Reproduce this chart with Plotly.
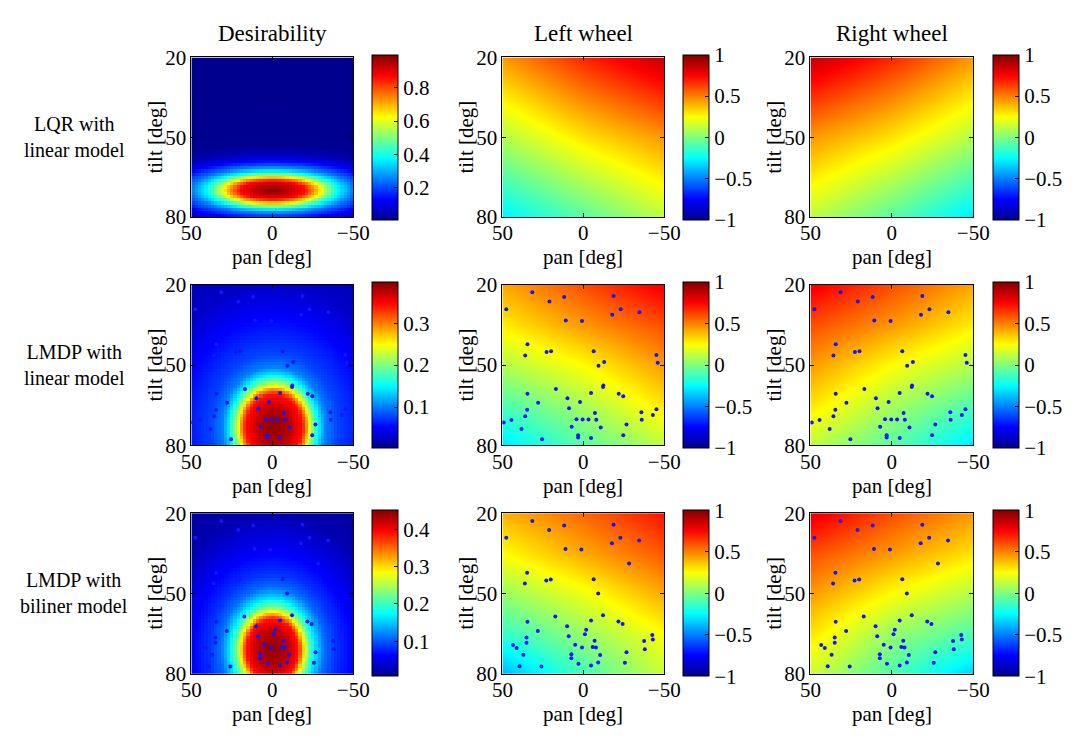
import numpy as np
import plotly.graph_objects as go

W, H = 1078, 738
FONT = "Liberation Serif"

# ---------------- data ----------------
col_titles = ["Desirability", "Left wheel", "Right wheel"]
row_titles = ["LQR with<br>linear model", "LMDP with<br>linear model", "LMDP with<br>biliner model"]

pan_ticks = [50, 0, -50]
tilt_ticks = [20, 50, 80]

# Desirability fields: radial profiles read along the horizontal line through the peak
# (distance in pan-degrees -> value relative to peak), peak centre, tilt stretch factor
d1_peak, d1_center, d1_stretch = 0.99, (0, 69.8), 5.8
d1_r = [0, 12, 20, 25.5, 30.5, 35, 41, 50, 65, 80, 100, 400]
d1_f = [1.0, 0.94, 0.875, 0.75, 0.625, 0.5, 0.375, 0.25, 0.125, 0.05, 0.01, 0.005]
d1_range = [0.008, 0.998]
d1_cticks = [0.2, 0.4, 0.6, 0.8]

d2_peak, d2_center, d2_stretch = 0.39, (-1, 73), 1.43
d2_r = [0, 5, 11, 17.5, 20, 22, 24.5, 27.5, 32, 39, 50, 76, 120]
d2_f = [1.0, 0.99, 0.95, 0.875, 0.75, 0.625, 0.5, 0.375, 0.26, 0.2, 0.16, 0.07, 0.03]
d2_range = [0.002, 0.398]
d2_cticks = [0.1, 0.2, 0.3]

d3_peak, d3_center, d3_stretch = 0.44, (0, 71), 1.38
d3_r = [0, 5, 11, 16, 18, 20, 22.5, 26, 32, 39, 49, 70, 120]
d3_f = [1.0, 0.99, 0.95, 0.875, 0.75, 0.625, 0.5, 0.375, 0.25, 0.19, 0.14, 0.05, 0.01]
d3_range = [0.006, 0.45]
d3_cticks = [0.1, 0.2, 0.3, 0.4]

# Wheel controls: values on a coarse grid (rows = tilt, cols = pan 50, 0, -50)
w_pan = [50, 0, -50]
w1_tilt = [20, 50, 80]
left1 = [[0.45, 0.68, 0.87],
         [0.10, 0.30, 0.45],
         [-0.28, -0.08, 0.12]]
right1 = [[0.87, 0.68, 0.45],
          [0.45, 0.30, 0.10],
          [0.12, -0.08, -0.30]]
w_tilt = [20, 35, 50, 65, 80]
left2 = [[0.42, 0.60, 0.78],
         [0.28, 0.45, 0.60],
         [0.10, 0.25, 0.45],
         [-0.10, 0.08, 0.30],
         [-0.30, -0.08, 0.12]]
right2 = [[0.78, 0.60, 0.42],
          [0.60, 0.45, 0.28],
          [0.45, 0.25, 0.10],
          [0.30, 0.08, -0.10],
          [0.12, -0.08, -0.30]]
left3 = [[0.40, 0.55, 0.72],
         [0.25, 0.42, 0.58],
         [0.05, 0.22, 0.42],
         [-0.15, 0.05, 0.25],
         [-0.40, -0.12, 0.15]]
right3 = [[0.80, 0.60, 0.45],
          [0.60, 0.45, 0.30],
          [0.45, 0.25, 0.10],
          [0.30, 0.05, -0.10],
          [0.15, -0.10, -0.35]]
w_range = [-1, 1]
w_cticks = [-1, -0.5, 0, 0.5, 1]

# Sample points (pan, tilt) used by LMDP, row 2
pts2_pan = [31.5, 47.6, 20.9, 11.8, -18.7, -23.1, -17.9, -34.7, 10.8, 0.8, 34.5, 35.9, 22.7, 19.9,
            -6.4, -12.9, -9.4, -45.2, -46.0, -12.4, -12.2, 16.9, 34.5, -4.8, -21.9, -24.7, 9.8, 27.9,
            2.0, 8.8, 34.7, 35.9, -35.9, -45.2, -43.0, -7.2, 49.2, 44.4, 4.2, 0.4, -3.2, -8.0, -36.1,
            7.2, -10.8, -26.7, 38.2, 3.2, 3.2, -4.8, -24.7, 25.5]
pts2_tilt = [22.8, 29.1, 26.2, 24.5, 24.2, 29.1, 31.2, 30.2, 33.3, 33.5, 42.2, 46.4, 45.1, 44.8,
             44.8, 48.8, 50.2, 46.2, 49.1, 57.6, 58.2, 58.9, 60.7, 60.4, 60.7, 61.6, 62.4, 64.1,
             63.8, 66.1, 66.7, 69.1, 67.6, 66.5, 68.6, 67.9, 71.4, 70.5, 70.2, 70.3, 70.3, 70.4, 70.4,
             73.0, 73.3, 72.2, 73.9, 76.2, 77.0, 77.2, 76.2, 77.7]
# Sample points, row 3
pts3_pan = [31.5, 47.6, 21.1, 11.8, -18.7, -22.9, -17.7, -34.5, 11.0, 1.2, -28.3, 34.7, 36.1, 22.9,
            20.1, -6.4, -9.2, 17.3, -12.2, 34.5, -4.8, -21.7, -24.3, 28.1, 10.0, -1.8, -1.0, 9.0,
            35.1, 35.1, -7.0, -42.6, -43.0, -37.6, 43.4, 41.2, 5.0, 0.8, -5.8, -7.8, -38.0, 37.0,
            7.4, 7.4, -10.4, -26.7, 3.0, -4.8, -9.2, -25.7, 39.4, 25.9]
pts3_tilt = [22.9, 29.2, 26.3, 24.6, 24.3, 29.2, 31.2, 30.2, 33.4, 33.6, 38.8, 42.3, 46.3, 45.2,
             44.8, 44.7, 50.0, 58.6, 58.1, 60.6, 60.1, 60.5, 61.4, 64.0, 62.3, 63.6, 65.2, 66.0,
             66.5, 68.4, 67.7, 65.5, 67.2, 67.8, 69.3, 70.4, 69.2, 70.2, 70.0, 70.2, 70.8, 72.9,
             72.7, 74.2, 73.0, 72.0, 76.3, 76.9, 75.8, 75.9, 77.2, 77.3]

# ---------------- styling / layout (positions in page pixels) ----------------
JET = [[0.0, "rgb(0,0,143)"], [0.125, "rgb(0,0,255)"], [0.375, "rgb(0,255,255)"],
       [0.625, "rgb(255,255,0)"], [0.875, "rgb(255,0,0)"], [1.0, "rgb(128,0,0)"]]

col_left = [185, 504, 820]
col_right = [351, 670, 987]
row_top = [47, 282, 518]
row_bot = [212, 448, 684]
cbar_left = [370, 689, 1007]
xlabel_y = [253, 490, 726]

NCELL = 50
grid_pan = 50 - (np.arange(NCELL) + 0.5) * (100 / NCELL)
grid_tilt = 20 + (np.arange(NCELL) + 0.5) * (60 / NCELL)


def radial_field(peak, center, stretch, rr, ff):
    P, T = np.meshgrid(grid_pan, grid_tilt)
    r = np.sqrt((P - center[0]) ** 2 + ((T - center[1]) * stretch) ** 2)
    return (peak * np.interp(r, rr, ff)).tolist()


def px(x):
    return x / W


def py(y):
    return 1 - y / H


def fmt(v):
    return ("%g" % v).replace("-", "\u2212")


d_specs = [
    (radial_field(d1_peak, d1_center, d1_stretch, d1_r, d1_f), d1_range, d1_cticks),
    (radial_field(d2_peak, d2_center, d2_stretch, d2_r, d2_f), d2_range, d2_cticks),
    (radial_field(d3_peak, d3_center, d3_stretch, d3_r, d3_f), d3_range, d3_cticks),
]
w_specs = [
    (w1_tilt, left1, right1),
    (w_tilt, left2, right2),
    (w_tilt, left3, right3),
]
pts = [None, (pts2_pan, pts2_tilt), (pts3_pan, pts3_tilt)]

fig = go.Figure()
layout_axes = {}
idx = 0
for r in range(3):
    z_d, zr, ct = d_specs[r]
    wt, lz, rz = w_specs[r]
    cells = [
        (grid_pan.tolist(), grid_tilt.tolist(), z_d, zr, ct, False),
        (w_pan, wt, lz, w_range, w_cticks, "best"),
        (w_pan, wt, rz, w_range, w_cticks, "best"),
    ]
    for c in range(3):
        idx += 1
        xs, ys, z, zrng, cticks, smooth = cells[c]
        xa = "x" if idx == 1 else "x%d" % idx
        ya = "y" if idx == 1 else "y%d" % idx
        top, bot = row_top[r], row_bot[r]
        fig.add_trace(go.Heatmap(
            x=xs, y=ys, z=z, xaxis=xa, yaxis=ya,
            colorscale=JET, zmin=zrng[0], zmax=zrng[1], zsmooth=smooth,
            hoverinfo="skip",
            colorbar=dict(
                x=px(cbar_left[c]), xanchor="left", xref="paper",
                y=py((top + bot) / 2), yanchor="middle", yref="paper",
                len=bot - top, lenmode="pixels",
                thickness=26, thicknessmode="pixels",
                xpad=0, ypad=0,
                outlinecolor="black", outlinewidth=1,
                ticks="inside", ticklen=4, tickcolor="black",
                tickvals=cticks, ticktext=[fmt(v) for v in cticks],
                tickfont=dict(family=FONT, size=21, color="black"),
            ),
        ))
        if pts[r] is not None:
            fig.add_trace(go.Scatter(
                x=pts[r][0], y=pts[r][1], xaxis=xa, yaxis=ya, mode="markers",
                marker=dict(size=4, color="rgb(20,20,255)", line=dict(width=0)),
                hoverinfo="skip", showlegend=False,
            ))
        axcommon = dict(showline=True, mirror="ticks", linecolor="black", linewidth=1,
                        ticks="inside", ticklen=4, tickcolor="black",
                        tickfont=dict(family=FONT, size=21, color="black"),
                        showgrid=False, zeroline=False, fixedrange=True)
        layout_axes["xaxis" if idx == 1 else "xaxis%d" % idx] = dict(
            domain=[px(col_left[c]), px(col_right[c])], anchor=ya,
            range=[50, -50], tickvals=pan_ticks, ticktext=[fmt(v) for v in pan_ticks],
            ticklabelstandoff=-3,
            **axcommon)
        layout_axes["yaxis" if idx == 1 else "yaxis%d" % idx] = dict(
            domain=[py(bot), py(top)], anchor=xa,
            range=[80, 20], tickvals=tilt_ticks, ticktext=[fmt(v) for v in tilt_ticks],
            **axcommon)

annotations = []
col_center = [(col_left[c] + col_right[c]) / 2 for c in range(3)]
for c in range(3):
    annotations.append(dict(text=col_titles[c], x=px(col_center[c]), y=py(22), xref="paper", yref="paper",
                            showarrow=False, xanchor="center", yanchor="middle",
                            font=dict(family=FONT, size=23, color="black")))
for r in range(3):
    annotations.append(dict(text=row_titles[r], x=px(65), y=py((row_top[r] + row_bot[r]) / 2), xref="paper",
                            yref="paper", showarrow=False, xanchor="center", yanchor="middle",
                            align="center", font=dict(family=FONT, size=20, color="black")))
    for c in range(3):
        annotations.append(dict(text="pan [deg]", x=px(col_center[c]), y=py(xlabel_y[r]), xref="paper",
                                yref="paper", showarrow=False, xanchor="center", yanchor="middle",
                                font=dict(family=FONT, size=21, color="black")))
        annotations.append(dict(text="tilt [deg]", x=px(col_left[c] - 37), y=py((row_top[r] + row_bot[r]) / 2),
                                xref="paper", yref="paper", showarrow=False, xanchor="center",
                                yanchor="middle", textangle=-90,
                                font=dict(family=FONT, size=21, color="black")))

fig.update_layout(
    width=W, height=H, margin=dict(l=0, r=0, t=0, b=0),
    paper_bgcolor="white", plot_bgcolor="white",
    showlegend=False, annotations=annotations,
    font=dict(family=FONT, size=20, color="black"),
    **layout_axes,
)

fig.write_html("out.html")
